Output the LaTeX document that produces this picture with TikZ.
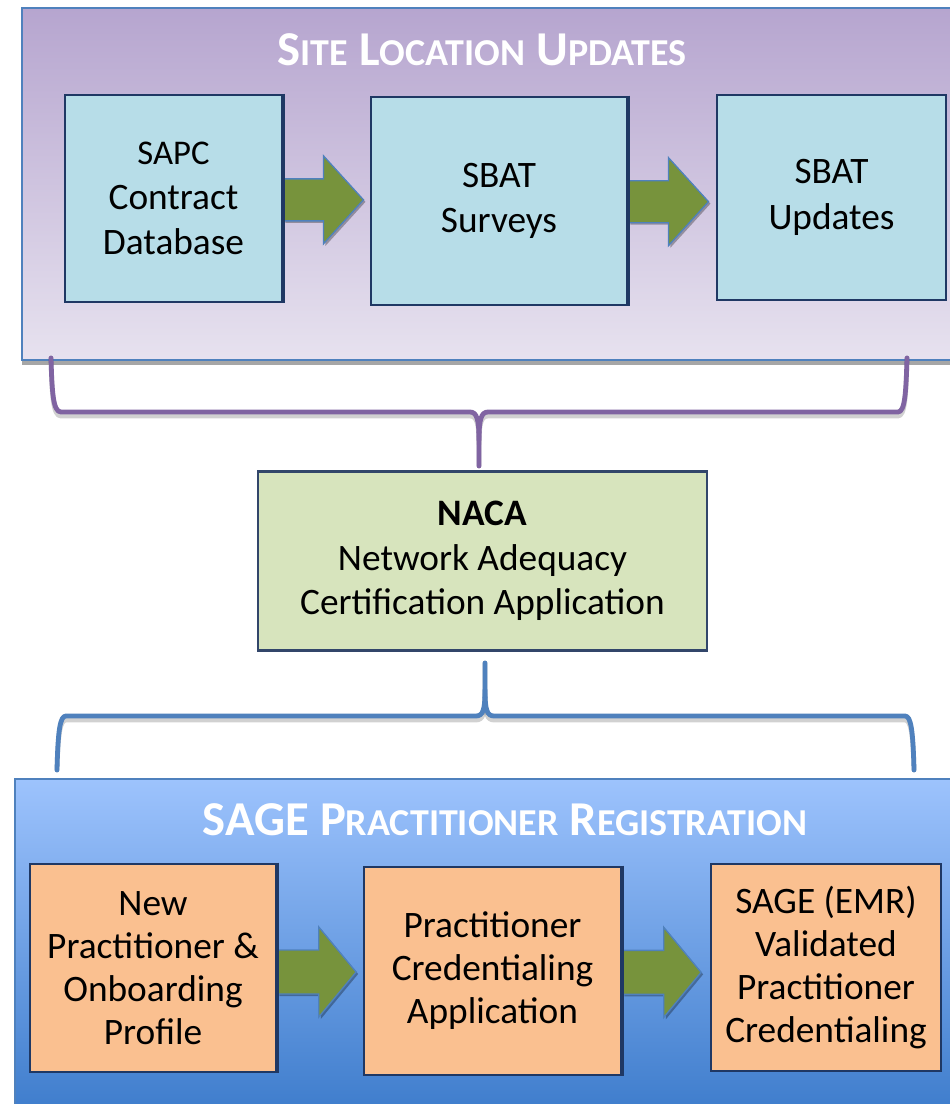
\documentclass[tikz,border=0pt]{standalone}
\usepackage{fontspec}
\setmainfont{Carlito}
\usetikzlibrary{shadows,calc}
\definecolor{panelblue}{HTML}{4F81BD}
\definecolor{navy}{HTML}{1F3864}
\definecolor{boxblue}{HTML}{B7DDE8}
\definecolor{arrgreen}{HTML}{77933C}
\definecolor{nacagreen}{HTML}{D7E4BD}
\definecolor{boxorange}{HTML}{FAC090}
\definecolor{bracepurple}{HTML}{8064A2}
\definecolor{ptop}{HTML}{B6A5CF}
\definecolor{pbot}{HTML}{E7E2EF}
\definecolor{btop}{HTML}{9DC3FD}
\definecolor{bbot}{HTML}{3C7BCB}
\newcommand\titlefont[2]{{\fontsize{36.5}{40}\selectfont #1}{\fontsize{28.5}{40}\selectfont #2}}
\tikzset{
  panel/.style={draw=panelblue, line width=1.2pt, drop shadow={shadow xshift=0pt, shadow yshift=-4pt, opacity=0.35, fill=black}},
  bluebox/.style={draw=navy, line width=2.2pt, fill=boxblue, inner sep=0pt, align=center, font=\fontsize{28}{34}\selectfont},
  orangebox/.style={draw=navy, line width=2.2pt, fill=boxorange, inner sep=0pt, align=center, font=\fontsize{28}{32.3}\selectfont},
  nacabox/.style={draw=navy!80!gray, line width=1.6pt, fill=nacagreen, inner sep=0pt, align=center, font=\fontsize{28}{33.5}\selectfont},
  garrow/.style={draw=panelblue, line width=1pt, fill=arrgreen, line join=miter, drop shadow={shadow xshift=1.5pt, shadow yshift=-1.5pt, opacity=0.3, fill=black}},
  bracestyle/.style={line width=3.6pt, line cap=round, line join=round},
  braceshadow/.style={line width=3.6pt, line cap=round, line join=round, draw=black, opacity=0.18},
  ttl/.style={text=white, font=\bfseries\fontsize{36.5}{40}\selectfont, inner sep=0pt}
}
\begin{document}
\begin{tikzpicture}[x=0.75pt, y=-0.75pt]
\useasboundingbox (0,0) rectangle (950,1104);
\fill[white] (0,0) rectangle (950,1104);
\clip (0,0) rectangle (950,1104);

% top panel
\path[panel, top color=ptop, bottom color=pbot] (22,8) rectangle (965,360);
\node[ttl] (t1) at (482,50) {\titlefont{S}{ITE} \titlefont{L}{OCATION} \titlefont{U}{PDATES}};

\node[bluebox, minimum width=217*0.75pt, minimum height=207*0.75pt] (b1) at (173.5,198.5)
  {\fontsize{26}{31}\selectfont SAPC\\Contract\\Database};
\node[bluebox, minimum width=256*0.75pt, minimum height=208*0.75pt] (b2) at (499,201) {SBAT\\Surveys};
\node[bluebox, minimum width=229*0.75pt, minimum height=205*0.75pt] (b3) at (831.5,197.5) {SBAT\\Updates};

\draw[garrow] ([yshift=-1pt]b1.east) ++(0,15.75pt) -- ++(30pt,0) -- ++(0,17.25pt) -- ++(30pt,-33pt) -- ++(-30pt,-33pt) -- ++(0,17.25pt) -- ++(-30pt,0) -- cycle;
\draw[garrow] ([yshift=-0.5pt]b2.east) ++(0,15.75pt) -- ++(30pt,0) -- ++(0,17.25pt) -- ++(30pt,-33pt) -- ++(-30pt,-33pt) -- ++(0,17.25pt) -- ++(-30pt,0) -- cycle;
\draw[navy, line width=2.2pt] (b1.north east) -- (b1.south east);
\draw[navy, line width=2.2pt] (b2.north east) -- (b2.south east);

% top brace
\coordinate (ul) at (51,358);
\coordinate (ur) at (907,358);
\coordinate (ut) at (479,466);
\begin{scope}[yshift=-3pt]
\draw[braceshadow] (ul) .. controls (52,392) and (53,412) .. (61,412) -- (470,412) .. controls (477,412) and (479,420) .. (479,440) -- (ut);
\draw[braceshadow] (479,440) .. controls (479,420) and (481,412) .. (488,412) -- (898,412) .. controls (905,412) and (906,392) .. (ur);
\end{scope}
\draw[bracestyle, bracepurple] (ul) .. controls (52,392) and (53,412) .. (61,412) -- (470,412) .. controls (477,412) and (479,420) .. (479,440) -- (ut);
\draw[bracestyle, bracepurple] (479,440) .. controls (479,420) and (481,412) .. (488,412) -- (898,412) .. controls (905,412) and (906,392) .. (ur);

% NACA
\node[nacabox, minimum width=449*0.75pt, minimum height=179*0.75pt] (naca) at (482.5,561)
  {\textbf{NACA}\\Network Adequacy\\Certification Application};

% bottom brace
\coordinate (lt) at (485,663);
\coordinate (ll) at (57,770);
\coordinate (lr) at (914,770);
\begin{scope}[yshift=-3pt]
\draw[braceshadow] (lt) -- (485,690) .. controls (485,710) and (483,716) .. (476,716) -- (66,716) .. controls (60,716) and (58,730) .. (ll);
\draw[braceshadow] (485,690) .. controls (485,710) and (487,716) .. (494,716) -- (905,716) .. controls (911,716) and (913,730) .. (lr);
\end{scope}
\draw[bracestyle, panelblue] (lt) -- (485,690) .. controls (485,710) and (483,716) .. (476,716) -- (66,716) .. controls (60,716) and (58,730) .. (ll);
\draw[bracestyle, panelblue] (485,690) .. controls (485,710) and (487,716) .. (494,716) -- (905,716) .. controls (911,716) and (913,730) .. (lr);

% bottom panel
\path[panel, top color=btop, bottom color=bbot] (15,779) rectangle (965,1120);
\node[ttl] (t2) at (505,820) {\titlefont{SAGE P}{RACTITIONER} \titlefont{R}{EGISTRATION}};

\node[orangebox, minimum width=246*0.75pt, minimum height=208*0.75pt] (c1) at (153,968)
  {New\\Practitioner \&\\Onboarding\\Profile};
\node[orangebox, minimum width=257*0.75pt, minimum height=208*0.75pt] (c2) at (492.5,971)
  {Practitioner\\Credentialing\\Application};
\node[orangebox, minimum width=230*0.75pt, minimum height=207*0.75pt] (c3) at (826,967.5)
  {SAGE (EMR)\\Validated\\Practitioner\\Credentialing};

\draw[garrow] ([yshift=-3pt]c1.east) ++(0,16.5pt) -- ++(31pt,0) -- ++(0,17.25pt) -- ++(28pt,-33.75pt) -- ++(-28pt,-33.75pt) -- ++(0,17.25pt) -- ++(-31pt,0) -- cycle;
\draw[garrow] ([yshift=-1pt]c2.east) ++(0,16.5pt) -- ++(31pt,0) -- ++(0,17.25pt) -- ++(28pt,-33.75pt) -- ++(-28pt,-33.75pt) -- ++(0,17.25pt) -- ++(-31pt,0) -- cycle;
\draw[navy, line width=2.2pt] (c1.north east) -- (c1.south east);
\draw[navy, line width=2.2pt] (c2.north east) -- (c2.south east);
\end{tikzpicture}
\end{document}
